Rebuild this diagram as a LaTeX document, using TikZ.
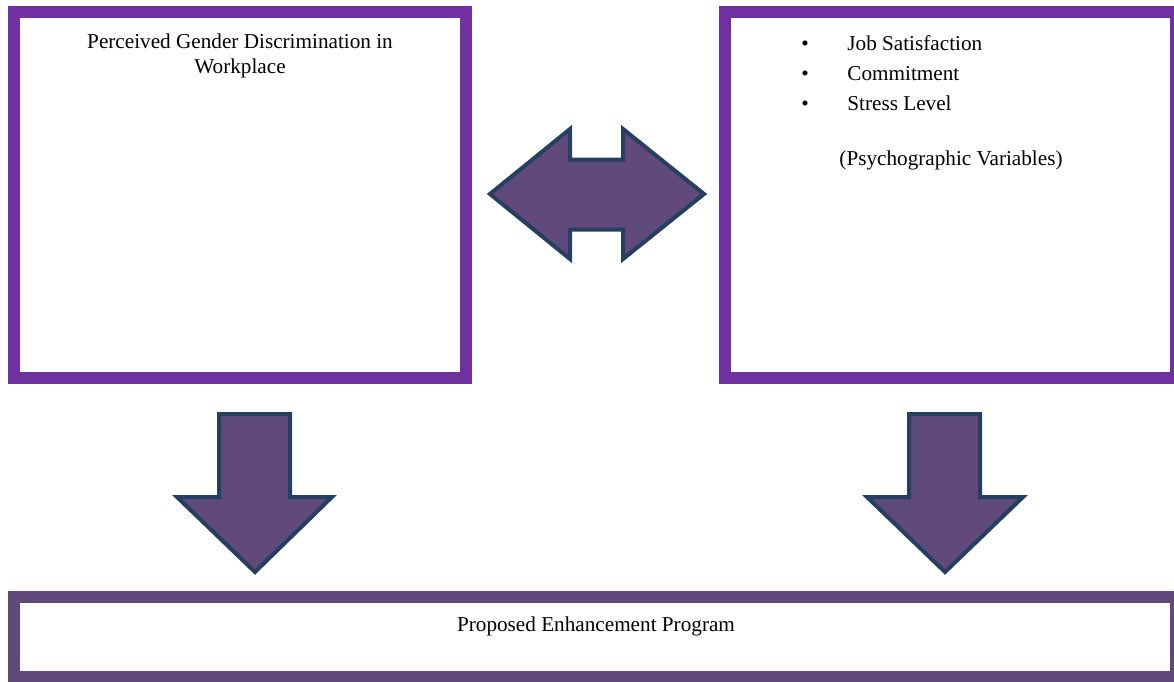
\documentclass[tikz,border=0pt]{standalone}
\usepackage{fontspec}
\setmainfont{Liberation Serif}
\usepackage{tikz}
\usetikzlibrary{positioning}
\definecolor{marcomorado}{HTML}{7030A0}
\definecolor{morado}{HTML}{604A7B}
\definecolor{azuloscuro}{HTML}{243F60}
\tikzstyle{variablebox} = [draw=marcomorado, line width=6pt, rectangle, fill=white, inner sep=0pt]
\tikzstyle{programbox} = [variablebox, draw=morado]
\tikzstyle{blockarrow} = [fill=morado, draw=azuloscuro, line width=2pt, line join=miter]
\tikzstyle{boxtext} = [font=\fontsize{10.6}{12.5}\selectfont, align=center, inner sep=0pt]

\begin{document}
\begin{tikzpicture}[x=0.5pt, y=-0.5pt]
	\useasboundingbox (0,0) rectangle (1174,681);
	% the three boxes
	\node [variablebox, minimum width=226pt, minimum height=183pt] (discrimination) at (240,195) {};
	\node [variablebox, minimum width=225.5pt, minimum height=183pt] (psychographic) at (950.5,195) {};
	\node [programbox, minimum width=581pt, minimum height=40pt] (program) at (595,637) {};
	% texts
	\node [boxtext] (discriminationtext) at (240,56) {Perceived Gender Discrimination in\\Workplace};
	\node [boxtext, anchor=base] at (805,50) {\textbullet};
	\node [boxtext, anchor=base west] (job) at (847,50) {Job Satisfaction};
	\node [boxtext, anchor=base] at (805,80) {\textbullet};
	\node [boxtext, anchor=base west] (commitment) at (847,80) {Commitment};
	\node [boxtext, anchor=base] at (805,110) {\textbullet};
	\node [boxtext, anchor=base west] (stress) at (847,110) {Stress Level};
	\node [boxtext, anchor=base] (psychographictext) at (951,165) {(Psychographic Variables)};
	\node [boxtext] (programtext) at (596,626) {Proposed Enhancement Program};
	% block arrows
	\draw [blockarrow] (490,194) -- (570,129) -- (570,159.5) -- (623,159.5) -- (623,129) -- (704,194)
		-- (623,259) -- (623,229.5) -- (570,229.5) -- (570,259) -- cycle;
	\draw [blockarrow] (219,414) -- (290,414) -- (290,497) -- (332,497) -- (255,572)
		-- (177,497) -- (219,497) -- cycle;
	\draw [blockarrow] (909,414) -- (980,414) -- (980,497) -- (1023,497) -- (945,572)
		-- (867,497) -- (909,497) -- cycle;
\end{tikzpicture}
\end{document}
